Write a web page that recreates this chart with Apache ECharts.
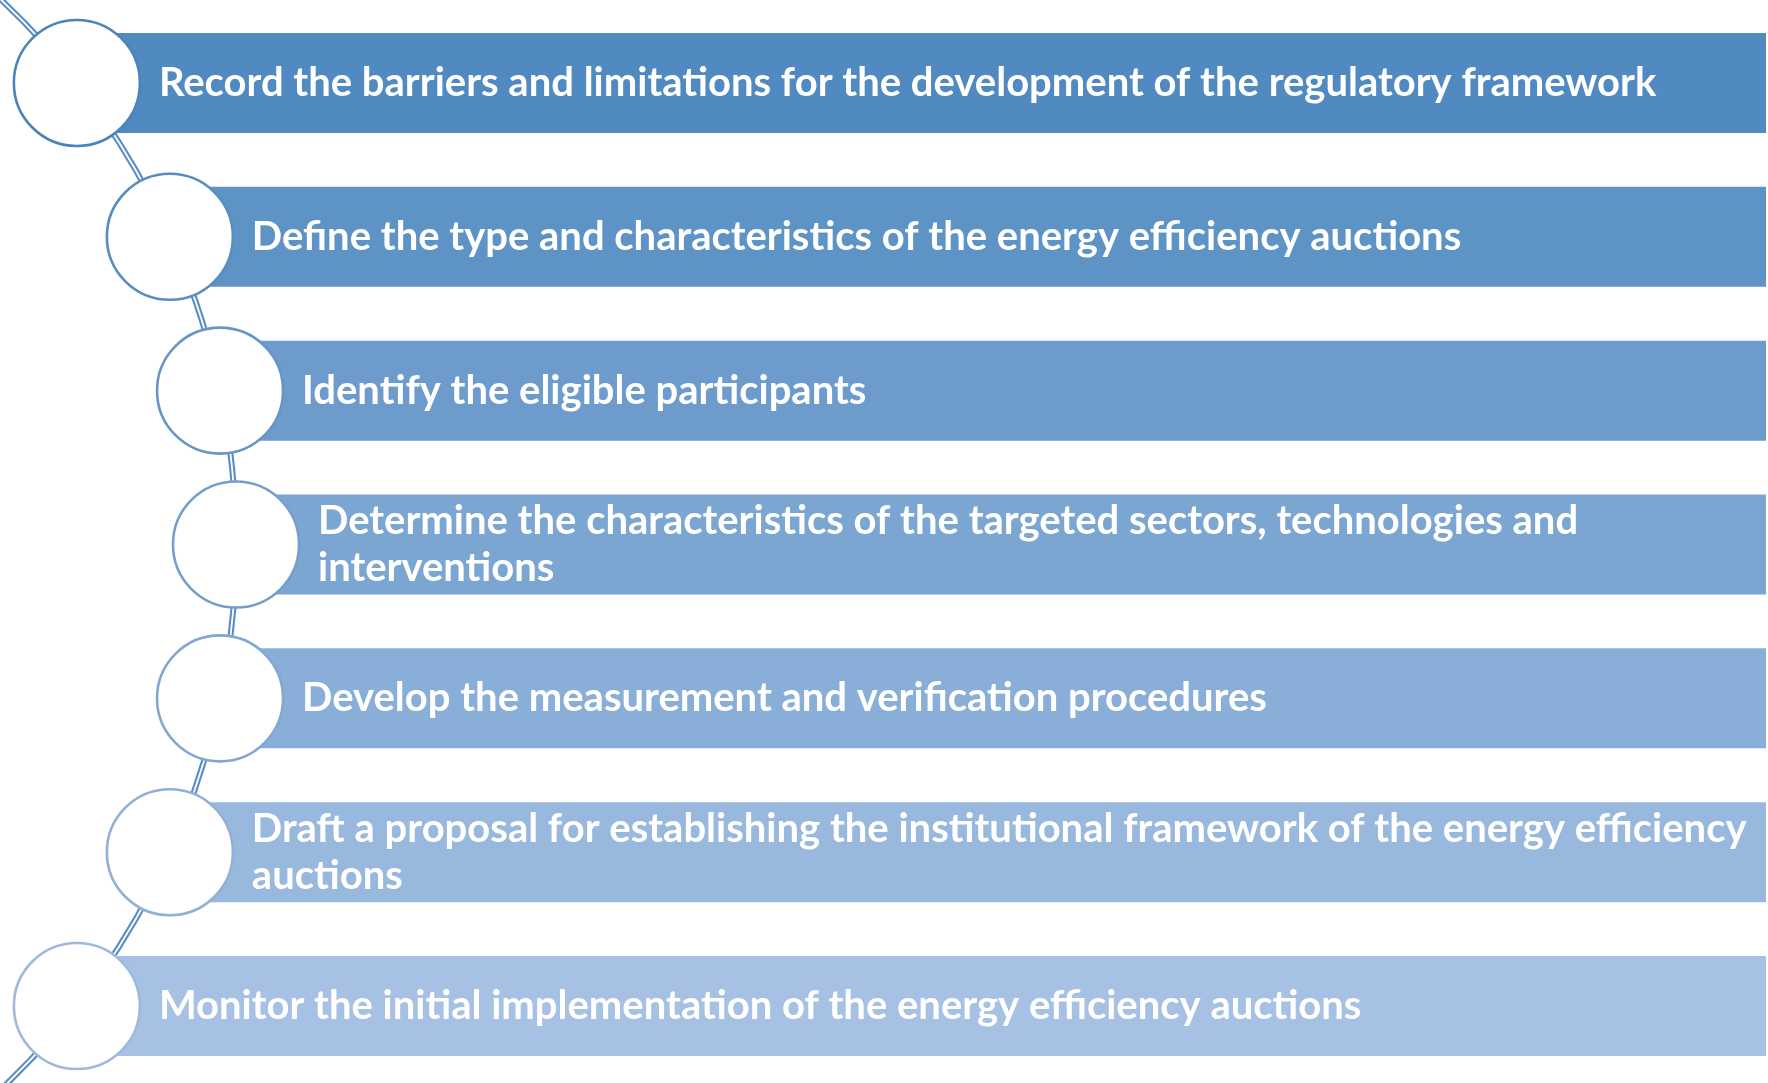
<!DOCTYPE html>
<html>
<head>
<meta charset="utf-8">
<script src="https://cdn.jsdelivr.net/npm/echarts@6/dist/echarts.min.js"></script>
<style>
html, body { margin: 0; padding: 0; background: #ffffff; }
#main { width: 1768px; height: 1083px; }
</style>
</head>
<body>
<div id="main"></div>
<script>
var steps = [
    'Record the barriers and limitations for the development of the regulatory framework',
    'Define the type and characteristics of the energy efficiency auctions',
    'Identify the eligible participants',
    'Determine the characteristics of the targeted sectors, technologies and\ninterventions',
    'Develop the measurement and verification procedures',
    'Draft a proposal for establishing the institutional framework of the energy efficiency\nauctions',
    'Monitor the initial implementation of the energy efficiency auctions'
];
var stepIndex = [0, 1, 2, 3, 4, 5, 6];

var chartDom = document.getElementById('main');
var myChart = echarts.init(chartDom);

// the circles sit on a big arc, bulging to the right at the middle step
var arcR = 749, arcShift = 513;
var barRight = 1766;
var dark = [80, 138, 192], light = [166, 193, 228];

function shade(t) {
    var c = dark.map(function (d, k) { return Math.round(d + (light[k] - d) * t); });
    return 'rgb(' + c.join(',') + ')';
}
function ring(t) {
    var c = dark.map(function (d, k) { return Math.round(d - 6 + (light[k] - 8 - d + 6) * t); });
    return 'rgb(' + c.join(',') + ')';
}
function arcX(api, y) {
    var mid = api.coord([0, 3])[1];
    var dy = y - mid;
    return -arcShift + Math.sqrt(arcR * arcR - dy * dy);
}

var option = {
    animation: false,
    grid: { left: 0, right: 0, top: 6, height: 1078 },
    xAxis: { type: 'value', min: 0, max: 1768, show: false },
    yAxis: { type: 'category', data: steps, inverse: true, show: false },
    series: [{
        type: 'custom',
        z: 1,
        data: [3],
        renderItem: function (params, api) {
            var mid = api.coord([0, 3])[1];
            var shape = { cx: -arcShift, cy: mid, r: arcR, startAngle: -0.86, endAngle: 0.86, clockwise: true };
            return {
                type: 'group',
                children: [
                    { type: 'arc', shape: shape, style: { fill: null, stroke: '#5a8dc6', lineWidth: 6 } },
                    { type: 'arc', shape: shape, style: { fill: null, stroke: '#ffffff', lineWidth: 1.8 } }
                ]
            };
        }
    }, {
        type: 'custom',
        z: 2,
        data: stepIndex,
        renderItem: function (params, api) {
            var i = api.value(0);
            var y = api.coord([0, i])[1];
            var band = api.size([0, 1])[1];
            var h = band * 0.65;
            var cx = arcX(api, y);
            var t = i / (steps.length - 1);
            return {
                type: 'group',
                children: [
                    { type: 'rect', shape: { x: cx, y: y - h / 2, width: barRight - cx, height: h },
                      style: { fill: shade(t) } },
                    { type: 'circle', shape: { cx: cx, cy: y, r: 63 },
                      style: { fill: '#ffffff', stroke: ring(t), lineWidth: 2.6 } },
                    { type: 'text', x: cx + 82, y: y,
                      style: { text: steps[i], fill: '#ffffff', fontFamily: 'Lato', fontWeight: 'bold',
                               fontSize: 40, lineHeight: 47, verticalAlign: 'middle', align: 'left' } }
                ]
            };
        }
    }]
};

myChart.setOption(option);
</script>
</body>
</html>
